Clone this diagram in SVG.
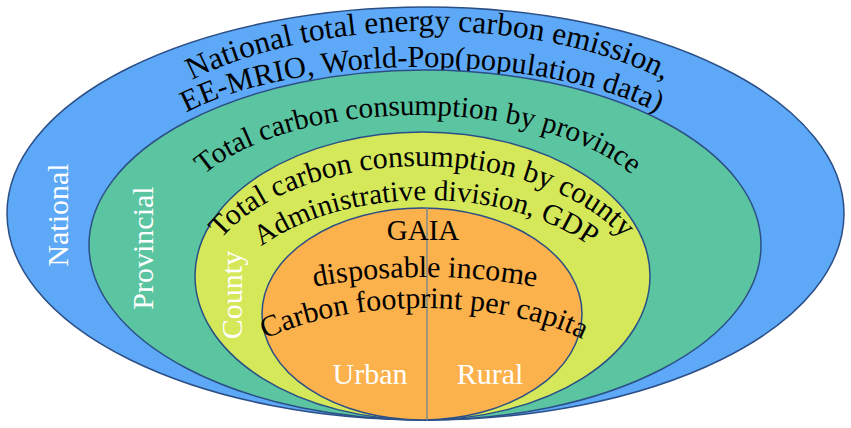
<svg xmlns="http://www.w3.org/2000/svg" xmlns:xlink="http://www.w3.org/1999/xlink" width="851" height="428" viewBox="0 0 851 428">
  <style>
    .ring { stroke: #2B4F86; stroke-width: 1.5; }
    .blk { font-family: "Liberation Serif", "Times New Roman", serif; fill: #000; text-anchor: middle; }
    .wht { font-family: "Liberation Serif", "Times New Roman", serif; fill: #fff; font-size: 30px; text-anchor: middle; }
  </style>
  <defs>
    <path id="p1" d="M 110 180 A 318 149 0 0 1 746 180"/>
    <path id="p2" d="M 128 180 A 294 113 0 0 1 716 180"/>
    <path id="p3" d="M 174 230 A 244 115 0 0 1 662 230"/>
    <path id="p4" d="M 196 300 A 226 134 0 0 1 648 300"/>
    <path id="p5" d="M 211 330 A 215 130 0 0 1 641 330"/>
    <path id="p7" d="M 235 330 A 190 53 0 0 1 615 330"/>
    <path id="p8" d="M 213 400 A 211 92 0 0 1 635 400"/>
  </defs>
  <rect width="851" height="428" fill="#ffffff"/>
  <g id="national">
    <ellipse class="ring" cx="425.5" cy="213.5" rx="418.5" ry="206.5" fill="#5DA9F7"/>
    <text class="wht" transform="translate(68,215) rotate(-90)">National</text>
    <text class="blk" font-size="31.5"><textPath xlink:href="#p1" href="#p1" startOffset="50%">National total energy carbon emission,</textPath></text>
    <text class="blk" font-size="30.5"><textPath xlink:href="#p2" href="#p2" startOffset="50%">EE-MRIO, World-Pop(population data)</textPath></text>
  </g>
  <g id="provincial">
    <ellipse class="ring" cx="425" cy="245" rx="336" ry="175" fill="#5BC4A0"/>
    <text class="wht" transform="translate(153,248) rotate(-90)">Provincial</text>
    <text class="blk" font-size="29.3"><textPath xlink:href="#p3" href="#p3" startOffset="50%">Total carbon consumption by province</textPath></text>
  </g>
  <g id="county">
    <ellipse class="ring" cx="422.5" cy="276" rx="227.5" ry="144" fill="#D4E85A"/>
    <text class="wht" transform="translate(242,295) rotate(-90)">County</text>
    <text class="blk" font-size="30"><textPath xlink:href="#p4" href="#p4" startOffset="50%">Total carbon consumption by county</textPath></text>
    <text class="blk" font-size="29"><textPath xlink:href="#p5" href="#p5" startOffset="50%">Administrative division, GDP</textPath></text>
  </g>
  <g id="urban-rural">
    <ellipse class="ring" cx="422" cy="314" rx="160" ry="106" fill="#FBB14C"/>
    <line x1="427" y1="208" x2="427" y2="420" stroke="#7F8C8C" stroke-width="1.5"/>
    <text class="blk" font-size="29" x="423" y="240">GAIA</text>
    <text class="blk" font-size="30"><textPath xlink:href="#p7" href="#p7" startOffset="50%">disposable income</textPath></text>
    <text class="blk" font-size="30"><textPath xlink:href="#p8" href="#p8" startOffset="50%">Carbon footprint per capita</textPath></text>
    <text class="wht" x="370" y="384">Urban</text>
    <text class="wht" x="490" y="384">Rural</text>
  </g>
  <g id="connectors"></g>
</svg>
